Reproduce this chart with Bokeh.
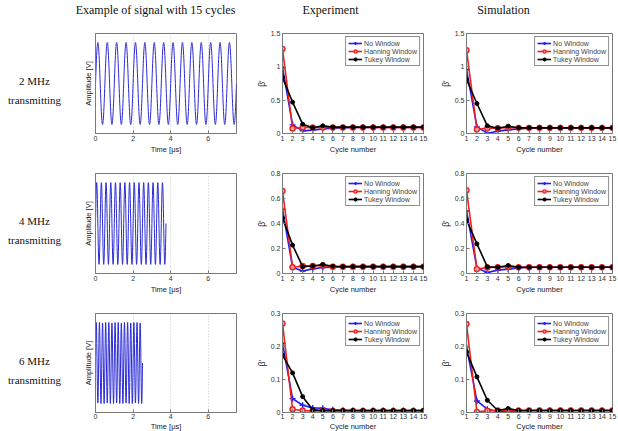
import numpy as np
from bokeh.plotting import figure
from bokeh.layouts import row, column
from bokeh.models import FixedTicker, Range1d
from bokeh.core.properties import value
from bokeh.embed import file_html
from bokeh.resources import INLINE

# ---------------- data ----------------
cycles = list(range(1, 16))

frequencies_mhz = [2, 4, 6]
n_cycles = 15
sample_rate_mhz = 100

row_labels = ["2 MHz", "4 MHz", "6 MHz"]
column_titles = ["Example of signal with 15 cycles", "Experiment", "Simulation"]
series_names = ["No Window", "Hanning Window", "Tukey Window"]

# beta' per cycle number -- experiment
exp_2mhz_none = [0.99, 0.13, 0.04, 0.05, 0.07, 0.08, 0.085, 0.09, 0.09, 0.09, 0.09, 0.09, 0.09, 0.09, 0.09]
exp_2mhz_hann = [1.27, 0.075, 0.09, 0.09, 0.09, 0.09, 0.09, 0.09, 0.09, 0.09, 0.09, 0.09, 0.09, 0.09, 0.09]
exp_2mhz_tukey = [0.84, 0.47, 0.14, 0.085, 0.115, 0.095, 0.095, 0.095, 0.095, 0.095, 0.095, 0.095, 0.095, 0.095, 0.095]

exp_4mhz_none = [0.515, 0.05, 0.02, 0.037, 0.048, 0.05, 0.052, 0.055, 0.055, 0.055, 0.055, 0.055, 0.055, 0.055, 0.055]
exp_4mhz_hann = [0.66, 0.05, 0.06, 0.06, 0.064, 0.055, 0.055, 0.055, 0.055, 0.055, 0.055, 0.055, 0.055, 0.055, 0.055]
exp_4mhz_tukey = [0.445, 0.227, 0.055, 0.06, 0.072, 0.058, 0.055, 0.055, 0.055, 0.055, 0.055, 0.055, 0.055, 0.055, 0.055]

exp_6mhz_none = [0.21, 0.042, 0.022, 0.014, 0.013, 0.008, 0.007, 0.006, 0.006, 0.006, 0.006, 0.006, 0.006, 0.006, 0.006]
exp_6mhz_hann = [0.27, 0.01, 0.006, 0.005, 0.005, 0.005, 0.005, 0.005, 0.005, 0.005, 0.005, 0.005, 0.005, 0.005, 0.005]
exp_6mhz_tukey = [0.174, 0.12, 0.048, 0.008, 0.006, 0.006, 0.006, 0.006, 0.006, 0.006, 0.006, 0.006, 0.006, 0.006, 0.006]

# beta' per cycle number -- simulation
sim_2mhz_none = [0.96, 0.10, 0.005, 0.035, 0.055, 0.07, 0.08, 0.085, 0.085, 0.085, 0.085, 0.085, 0.085, 0.085, 0.085]
sim_2mhz_hann = [1.25, 0.06, 0.08, 0.08, 0.09, 0.085, 0.085, 0.085, 0.085, 0.085, 0.085, 0.085, 0.085, 0.085, 0.085]
sim_2mhz_tukey = [0.81, 0.45, 0.115, 0.08, 0.11, 0.085, 0.085, 0.085, 0.085, 0.085, 0.085, 0.085, 0.085, 0.085, 0.085]

sim_4mhz_none = [0.50, 0.043, 0.008, 0.027, 0.035, 0.045, 0.048, 0.05, 0.05, 0.05, 0.05, 0.05, 0.05, 0.05, 0.05]
sim_4mhz_hann = [0.667, 0.035, 0.048, 0.05, 0.055, 0.05, 0.05, 0.05, 0.05, 0.05, 0.05, 0.05, 0.05, 0.05, 0.05]
sim_4mhz_tukey = [0.43, 0.237, 0.053, 0.05, 0.064, 0.05, 0.05, 0.05, 0.05, 0.05, 0.05, 0.05, 0.05, 0.05, 0.05]

sim_6mhz_none = [0.20, 0.035, 0.01, 0.004, 0.004, 0.005, 0.006, 0.006, 0.006, 0.006, 0.006, 0.006, 0.006, 0.006, 0.006]
sim_6mhz_hann = [0.268, 0.002, 0.005, 0.006, 0.008, 0.006, 0.006, 0.006, 0.006, 0.006, 0.006, 0.006, 0.006, 0.006, 0.006]
sim_6mhz_tukey = [0.184, 0.108, 0.037, 0.006, 0.012, 0.006, 0.006, 0.006, 0.006, 0.006, 0.006, 0.006, 0.006, 0.006, 0.006]

beta_ymax = [1.5, 0.8, 0.3]
beta_yticks = [[0, 0.5, 1, 1.5], [0, 0.2, 0.4, 0.6, 0.8], [0, 0.1, 0.2, 0.3]]
beta_ytick_labels = [["0", "0.5", "1", "1.5"], ["0", "0.2", "0.4", "0.6", "0.8"], ["0", "0.1", "0.2", "0.3"]]
time_ticks = [0, 2, 4, 6]

experiment = [
    [exp_2mhz_none, exp_2mhz_hann, exp_2mhz_tukey],
    [exp_4mhz_none, exp_4mhz_hann, exp_4mhz_tukey],
    [exp_6mhz_none, exp_6mhz_hann, exp_6mhz_tukey],
]
simulation = [
    [sim_2mhz_none, sim_2mhz_hann, sim_2mhz_tukey],
    [sim_4mhz_none, sim_4mhz_hann, sim_4mhz_tukey],
    [sim_6mhz_none, sim_6mhz_hann, sim_6mhz_tukey],
]

# ---------------- styling ----------------
SANS = "Liberation Sans"
SERIF = "Liberation Serif"
TICK_COLOR = "#333333"
FRAME_COLOR = "#7a7a7a"
SIGNAL_COLOR = "#2b2bd6"
SERIES_COLORS = ["#1f1ff0", "#f01f1f", "#000000"]

SIDE_W = 64
ROW_H = [140, 140, 128]
CELL_W = [181, 185, 188]
BORDER_L = [31, 37, 36]
BORDER_R = [9, 7, 6]


def style_axes(p, r, xticks, yticks, ylabels=None):
    xax, yax = p.below[0], p.left[0]
    xax.ticker = FixedTicker(ticks=xticks)
    yax.ticker = FixedTicker(ticks=yticks)
    for ax in (xax, yax):
        ax.major_label_text_font = SANS
        ax.major_label_text_font_size = "7px"
        ax.major_label_text_color = TICK_COLOR
        ax.axis_label_text_font = SANS
        ax.axis_label_text_font_size = "7.5px"
        ax.axis_label_text_font_style = "normal"
        ax.axis_label_text_color = "#222222"
        ax.axis_line_color = FRAME_COLOR
        ax.major_tick_line_color = FRAME_COLOR
        ax.major_tick_in = 3
        ax.major_tick_out = 0
        ax.minor_tick_line_color = None
        ax.major_label_standoff = 2
        ax.axis_label_standoff = 1
    if r == 2:
        # bottom row sits against the page edge: tighten the x axis
        xax.major_label_standoff = 1
        xax.axis_label_standoff = 0
    if ylabels is not None:
        yax.major_label_overrides = {t: s for t, s in zip(yticks, ylabels)}
    return xax, yax


def base_figure(r, c, x_range, y_range):
    bottom = ROW_H[r] - 8 - 100
    p = figure(
        width=CELL_W[c], height=ROW_H[r],
        x_range=x_range, y_range=y_range,
        output_backend="svg", toolbar_location=None,
        min_border_left=BORDER_L[c], min_border_right=BORDER_R[c],
        min_border_top=8, min_border_bottom=bottom,
    )
    p.outline_line_color = FRAME_COLOR
    p.outline_line_width = 1
    p.background_fill_color = "white"
    p.border_fill_color = "white"
    return p


def signal_figure(r):
    f = frequencies_mhz[r]
    duration = n_cycles / f
    t = np.arange(0, duration + 1e-9, 1.0 / sample_rate_mhz)
    s = np.sin(2 * np.pi * f * t)
    p = base_figure(r, 0, Range1d(0, 7.5), Range1d(-1.22, 1.22))
    p.line(t, s, line_color=SIGNAL_COLOR, line_width=1)
    xax, yax = style_axes(p, r, time_ticks, [])
    xax.axis_label = "Time [\u03bcs]"
    yax.axis_label = "Amplitude [V]"
    yax.axis_label_standoff = 3
    p.ygrid.grid_line_color = None
    p.xgrid.grid_line_color = "#c8c8c8"
    p.xgrid.grid_line_dash = "1 2"
    return p


def beta_figure(r, c, series):
    p = base_figure(r, c, Range1d(1, 15), Range1d(0, beta_ymax[r]))
    p.grid.grid_line_color = None
    markers = [("cross", 6, 1.4), ("circle", 5, 1.4), ("circle", 4, 1.0)]
    for (vals, name, color, (mk, size, lw)) in zip(series, series_names, SERIES_COLORS, markers):
        p.line(cycles, vals, line_color=color, line_width=1.6, legend_label=name)
        fill = color if name != "Hanning Window" else "#f5a0a0"
        p.scatter(cycles, vals, marker=mk, size=size, line_color=color, fill_color=fill,
                  line_width=lw, legend_label=name)
    xax, yax = style_axes(p, r, cycles, beta_yticks[r], beta_ytick_labels[r])
    xax.axis_label = "Cycle number"
    yax.axis_label = "\u03b2'"
    yax.axis_label_text_font_size = "8.5px"
    lg = p.legend[0]
    lg.location = "top_right"
    lg.margin = 3
    lg.padding = 2
    lg.spacing = 0
    lg.label_height = 8
    lg.glyph_height = 8
    lg.glyph_width = 14
    lg.label_standoff = 2
    lg.label_text_font = SANS
    lg.label_text_font_size = "7px"
    lg.label_text_line_height = 1.0
    lg.border_line_color = "#222222"
    lg.border_line_width = 1
    lg.background_fill_alpha = 1.0
    return p


# ---------------- text panels ----------------
def text_panel(width, height, x0, y0):
    p = figure(width=width, height=height, x_range=Range1d(x0, x0 + width),
               y_range=Range1d(y0 + height, y0), output_backend="svg",
               toolbar_location=None, min_border=0)
    p.axis.visible = False
    p.grid.grid_line_color = None
    p.outline_line_color = None
    return p


header = text_panel(618 - SIDE_W, 25, SIDE_W, 0)
header.text(x=[155, 330, 503], y=[9, 9, 9], text=column_titles,
            text_font=value(SERIF), text_font_size="12px",
            text_align="center", text_baseline="middle", text_color="#111111")

side = text_panel(SIDE_W, 431, 0, 0)
label_y = [80, 220, 360]
side.text(x=[34] * 3, y=label_y, text=row_labels,
          text_font=value(SERIF), text_font_size="11px",
          text_align="center", text_baseline="middle", text_color="#111111")
side.text(x=[34] * 3, y=[y + 19 for y in label_y], text=["transmitting"] * 3,
          text_font=value(SERIF), text_font_size="11px",
          text_align="center", text_baseline="middle", text_color="#111111")

rows = []
for r in range(3):
    rows.append(row(signal_figure(r),
                    beta_figure(r, 1, experiment[r]),
                    beta_figure(r, 2, simulation[r])))

grid = column(header, *rows)
page = row(side, grid)

open("out.html", "w").write(file_html(page, INLINE))
